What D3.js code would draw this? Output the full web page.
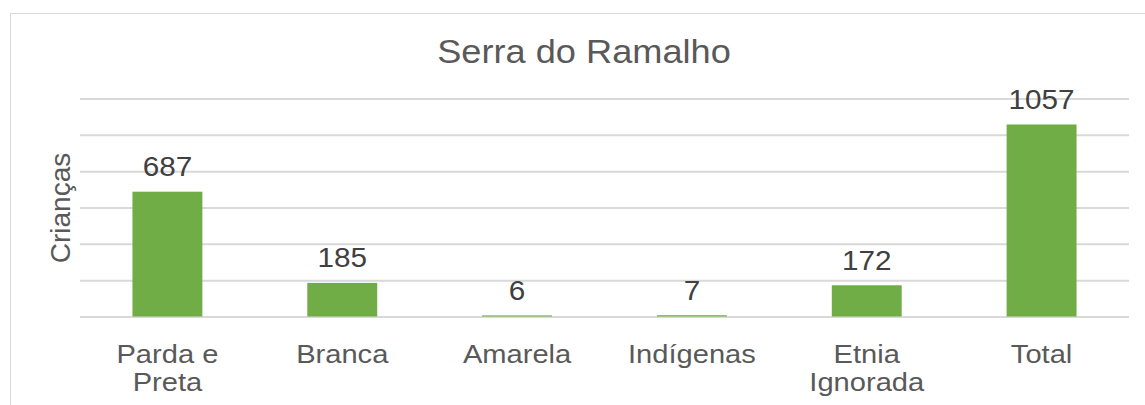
<!DOCTYPE html>
<html lang="pt">
<head>
<meta charset="utf-8">
<title>Serra do Ramalho</title>
<script src="https://d3js.org/d3.v7.min.js"></script>
<style>
  body { margin: 0; background: #fff; }
  text { font-family: "Liberation Sans", Arial, sans-serif; fill: #595959; }
</style>
</head>
<body>
<div id="chart"></div>
<script>
// data
var categories = ["Parda e\nPreta", "Branca", "Amarela", "Indígenas", "Etnia\nIgnorada", "Total"];
var values = [687, 185, 6, 7, 172, 1057];
var yTicks = [0, 200, 400, 600, 800, 1000, 1200];
var title = "Serra do Ramalho";
var yLabel = "Crianças";

var W = 1145, H = 405;
var plot = { left: 80, right: 1129, top: 98.5, bottom: 316.5 };

var svg = d3.select("#chart").append("svg")
    .attr("width", W)
    .attr("height", H);

// chart area border (runs off the right and bottom edge)
svg.append("rect")
    .attr("x", 10.5).attr("y", 13.5)
    .attr("width", 1160).attr("height", 420)
    .attr("fill", "#fff")
    .attr("stroke", "#d9d9d9")
    .attr("stroke-width", 1);

var x = d3.scaleBand()
    .domain(categories)
    .range([plot.left, plot.right])
    .padding(0);

var y = d3.scaleLinear()
    .domain([0, 1200])
    .range([plot.bottom, plot.top]);

// gridlines through the axis, labels hidden
var grid = svg.append("g")
    .attr("transform", "translate(" + plot.left + ",0)")
    .call(d3.axisLeft(y)
        .tickValues(yTicks)
        .tickSize(-(plot.right - plot.left))
        .tickFormat(""));
grid.select(".domain").remove();
grid.selectAll(".tick line")
    .attr("stroke", "#d9d9d9")
    .attr("stroke-width", 2);

var barW = x.bandwidth() * 0.4;

svg.selectAll("rect.bar")
    .data(values)
    .enter()
    .append("rect")
    .attr("class", "bar")
    .attr("x", (d, i) => x(categories[i]) + (x.bandwidth() - barW) / 2)
    .attr("y", d => y(d))
    .attr("width", barW)
    .attr("height", d => y(0) - y(d))
    .attr("fill", "#70ad47");

// value labels
svg.selectAll("text.val")
    .data(values)
    .enter()
    .append("text")
    .attr("class", "val")
    .attr("text-anchor", "middle")
    .attr("font-size", 27)
    .style("fill", "#404040")
    .attr("transform", (d, i) => "translate(" + (x(categories[i]) + x.bandwidth() / 2) + "," + (y(d) - 15.5) + ") scale(1.1,1)")
    .text(d => d);

// category labels (may wrap to two lines)
var cat = svg.selectAll("text.cat")
    .data(categories)
    .enter()
    .append("text")
    .attr("class", "cat")
    .attr("text-anchor", "middle")
    .attr("font-size", 26)
    .attr("transform", d => "translate(" + (x(d) + x.bandwidth() / 2) + ",363) scale(1.12,1)");

cat.selectAll("tspan")
    .data(d => d.split("\n"))
    .enter()
    .append("tspan")
    .attr("x", 0)
    .attr("dy", (d, i) => i === 0 ? 0 : 28)
    .text(d => d);

// title
svg.append("text")
    .attr("text-anchor", "middle")
    .attr("font-size", 33.5)
    .attr("transform", "translate(584,63) scale(1.08,1)")
    .text(title);

// y axis title
svg.append("text")
    .attr("text-anchor", "middle")
    .attr("font-size", 28)
    .attr("transform", "translate(70,208) rotate(-90)")
    .text(yLabel);
</script>
</body>
</html>
